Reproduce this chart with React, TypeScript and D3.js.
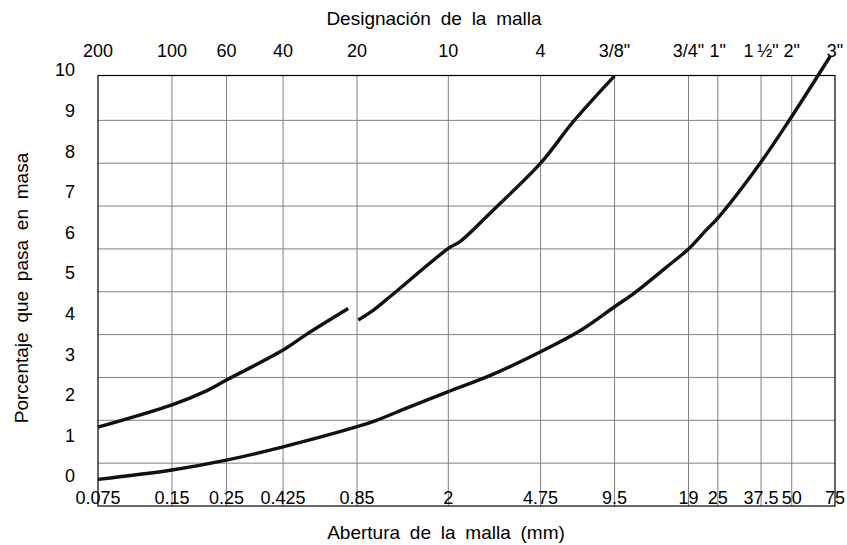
import React from "react";
import * as d3 from "d3";

const sieveMM = [0.075, 0.15, 0.25, 0.425, 0.85, 2, 4.75, 9.5, 19, 25, 37.5, 50, 75];
const bottomLabels = ["0.075", "0.15", "0.25", "0.425", "0.85", "2", "4.75", "9.5", "19", "25", "37.5", "50", "75"];
const topLabels = ["200", "100", "60", "40", "20", "10", "4", "3/8\"", "3/4\"", "1\"", "1\u2009½\"", "2\"", "3\""];
const yTickLabels = [0, 1, 2, 3, 4, 5, 6, 7, 8, 9, 10];
const gridRows = [1, 2, 3, 4, 5, 6, 7, 8, 9];

// [abertura mm, unidades de la retícula]
const fineLow: [number, number][] = [
  [0.075, 1.84], [0.15, 2.36], [0.204, 2.67], [0.25, 2.94], [0.425, 3.64], [0.537, 4.03], [0.783, 4.61],
];
const fineHigh: [number, number][] = [
  [0.86, 4.34], [0.975, 4.54], [1.16, 4.89], [2, 6.01], [2.23, 6.17], [3.05, 6.91], [4.75, 8.0], [6.45, 8.97], [9.5, 10.04],
];
const coarse: [number, number][] = [
  [0.075, 0.62], [0.15, 0.84], [0.25, 1.07], [0.425, 1.38], [0.85, 1.85], [1.02, 2.0], [1.4, 2.32], [2, 2.67],
  [3.0, 3.06], [4.75, 3.6], [6.87, 4.09], [9.5, 4.65], [11.5, 4.98], [15.5, 5.58], [19, 6.0], [22.5, 6.45],
  [25, 6.72], [37.5, 8.03], [50, 9.09], [71.6, 10.49],
];

const W = 847;
const H = 545;
const L = 98, R = 835, T = 75.5, B = 506;

export default function App() {
  const x = d3.scaleLog().domain([0.075, 75]).range([L, R]);
  const y = d3.scaleLinear().domain([0, 10]).range([B, 77.5]);
  const yLab = d3.scaleLinear().domain([0, 10]).range([476, 70]);
  const line = d3
    .line<[number, number]>()
    .x((d) => x(d[0]))
    .y((d) => y(d[1]))
    .curve(d3.curveCatmullRom.alpha(0.5));
  const font = "'Liberation Sans', Arial, Helvetica, sans-serif";
  const fs = 18;
  const ts = 19;
  return (
    <svg width={W} height={H} style={{ position: "absolute", left: 0, top: 0, background: "#fff" }} fontFamily={font}>
      <rect x={0} y={0} width={W} height={H} fill="#fff" />
      {sieveMM.slice(1, -1).map((v, i) => (
        <line key={"vx" + i} x1={x(v)} x2={x(v)} y1={T} y2={B} stroke="#808080" strokeWidth={1} />
      ))}
      {gridRows.map((v) => (
        <line key={"hy" + v} x1={L} x2={R} y1={y(v)} y2={y(v)} stroke="#808080" strokeWidth={1} />
      ))}
      <rect x={L} y={T} width={R - L} height={B - T} fill="none" stroke="#000" strokeWidth={1.2} />
      {[fineLow, fineHigh, coarse].map((s, i) => (
        <path key={"c" + i} d={line(s) || ""} fill="none" stroke="#111" strokeWidth={3.4} strokeLinecap="butt" />
      ))}
      {sieveMM.map((v, i) => (
        <text key={"bl" + i} x={x(v)} y={504} fontSize={fs} textAnchor="middle" fill="#000">
          {bottomLabels[i]}
        </text>
      ))}
      {sieveMM.map((v, i) => (
        <text key={"tl" + i} x={x(v)} y={57} fontSize={fs} textAnchor="middle" fill="#000">
          {topLabels[i]}
        </text>
      ))}
      {yTickLabels.map((v) => (
        <text key={"yl" + v} x={75} y={yLab(v)} dy="0.35em" fontSize={fs} textAnchor="end" fill="#000">
          {v}
        </text>
      ))}
      <text x={434} y={25} fontSize={ts} textAnchor="middle" wordSpacing={4.5} fill="#000">
        Designación de la malla
      </text>
      <text x={446} y={539} fontSize={ts} textAnchor="middle" wordSpacing={4.5} fill="#000">
        Abertura de la malla (mm)
      </text>
      <text
        transform="translate(28,288) rotate(-90)"
        fontSize={ts}
        textAnchor="middle"
        wordSpacing={4.5}
        fill="#000"
      >
        Porcentaje que pasa en masa
      </text>
    </svg>
  );
}
